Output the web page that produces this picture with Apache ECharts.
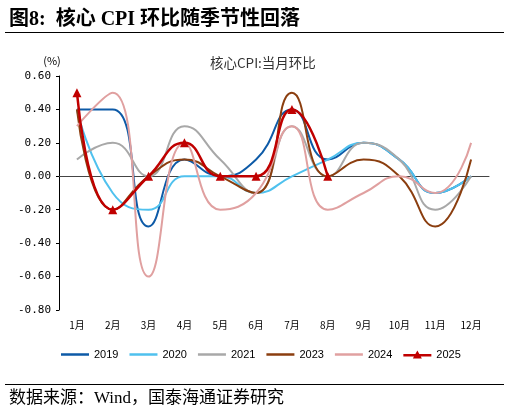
<!DOCTYPE html>
<html>
<head>
<meta charset="utf-8">
<script src="https://cdn.jsdelivr.net/npm/echarts@6/dist/echarts.min.js"></script>
<style>
  html, body { margin: 0; padding: 0; background: #fff; }
  #main { width: 510px; height: 408px; }
</style>
</head>
<body>
<div id="main"></div>
<script>
// 月份
var months = ['1月', '2月', '3月', '4月', '5月', '6月', '7月', '8月', '9月', '10月', '11月', '12月'];
// 核心CPI环比 (%)
var y2019 = [0.4, 0.4, -0.3, 0.1, 0.0, 0.1, 0.4, 0.1, 0.2, 0.1, -0.1, 0.0];
var y2020 = [0.4, -0.1, -0.2, 0.0, 0.0, -0.1, 0.0, 0.1, 0.2, 0.1, -0.1, 0.0];
var y2021 = [0.1, 0.2, 0.0, 0.3, 0.1, -0.1, 0.3, 0.0, 0.2, 0.1, -0.2, 0.0];
var y2023 = [0.4, -0.2, 0.0, 0.1, 0.0, -0.1, 0.5, 0.0, 0.1, 0.0, -0.3, 0.1];
var y2024 = [0.3, 0.5, -0.6, 0.2, -0.2, -0.1, 0.3, -0.2, -0.1, 0.0, -0.1, 0.2];
var y2025 = [0.5, -0.2, 0.0, 0.2, 0.0, 0.0, 0.4, 0.0];

var cjkSerif = '"Liberation Serif", "Noto Sans CJK SC", serif';
var cjkSans = '"Noto Sans CJK SC", sans-serif';
var mono = '"DejaVu Sans Mono", "Liberation Mono", monospace';

// 图例图标: 线段 / 线段+三角
var lineIcon = 'path://M0,4 L28,4 L28,6.5 L0,6.5 Z';
var triIcon = 'path://M0,4 L28,4 L28,6.5 L0,6.5 Z M14,0.5 L18.5,8.5 L9.5,8.5 Z';

function line(name, data, color, width) {
  return {
    name: name,
    type: 'line',
    data: data,
    smooth: 0.5,
    symbol: 'none',
    lineStyle: { color: color, width: width },
    itemStyle: { color: color }
  };
}

var chart = echarts.init(document.getElementById('main'));
var option = {
  animation: false,
  title: [
    {
      text: '图8:  核心 CPI 环比随季节性回落',
      left: 4, top: 5,
      textStyle: { fontFamily: cjkSerif, fontWeight: 'bold', fontSize: 20, color: '#000' }
    },
    {
      text: '核心CPI:当月环比',
      left: 205, top: 51,
      textStyle: { fontFamily: cjkSans, fontWeight: 'normal', fontSize: 13.5, color: '#333' }
    },
    {
      text: '数据来源：Wind，国泰海通证券研究',
      left: 4, top: 385,
      textStyle: { fontFamily: cjkSerif, fontWeight: 'normal', fontSize: 17, color: '#000' }
    }
  ],
  graphic: [
    { type: 'line', shape: { x1: 5, y1: 32.5, x2: 504, y2: 32.5 }, style: { stroke: '#000', lineWidth: 1.2 } },
    { type: 'line', shape: { x1: 5, y1: 384.5, x2: 504, y2: 384.5 }, style: { stroke: '#000', lineWidth: 1.2 } }
  ],
  legend: {
    left: 56, top: 344,
    itemWidth: 28, itemHeight: 10, itemGap: 11,
    textStyle: { fontFamily: 'Arial, "Liberation Sans", sans-serif', fontSize: 11, color: '#000' },
    data: [
      { name: '2019', icon: lineIcon },
      { name: '2020', icon: lineIcon },
      { name: '2021', icon: lineIcon },
      { name: '2023', icon: lineIcon },
      { name: '2024', icon: lineIcon },
      { name: '2025', icon: triIcon }
    ]
  },
  grid: { left: 59, right: 21, top: 76, bottom: 98 },
  xAxis: [
    {
      type: 'category',
      data: months,
      position: 'bottom',
      axisLine: { show: false, onZero: false },
      axisTick: { show: false },
      axisLabel: { fontFamily: cjkSans, fontSize: 10, color: '#000', margin: 10, interval: 0 }
    },
    {
      type: 'category',
      data: months,
      position: 'top',
      axisLine: { onZero: true, lineStyle: { color: '#444', width: 1 } },
      axisTick: { inside: true, length: 4, lineStyle: { color: '#444' } },
      axisLabel: { show: false }
    }
  ],
  yAxis: {
    type: 'value',
    min: -0.8, max: 0.6, interval: 0.2,
    name: '(%)',
    nameGap: 10,
    nameTextStyle: { fontFamily: cjkSans, fontSize: 11, color: '#000', align: 'center', padding: [0, 14, 0, 0] },
    axisLine: { show: true, lineStyle: { color: '#000' } },
    axisTick: { show: true, length: 3, lineStyle: { color: '#000' } },
    splitLine: { show: false },
    axisLabel: {
      fontFamily: mono, fontSize: 11, color: '#000', margin: 8,
      formatter: function (v) { return v.toFixed(2); }
    }
  },
  series: [
    line('2019', y2019, '#0d5aa7', 2),
    line('2020', y2020, '#4fc1ee', 2),
    line('2021', y2021, '#a8a8a8', 2),
    line('2023', y2023, '#8b3e0f', 2),
    line('2024', y2024, '#e0a0a0', 2),
    {
      name: '2025',
      type: 'line',
      data: y2025,
      smooth: 0.5,
      symbol: 'triangle',
      symbolSize: 9,
      lineStyle: { color: '#c00000', width: 2.5 },
      itemStyle: { color: '#c00000' },
      z: 5
    }
  ]
};
chart.setOption(option);
</script>
</body>
</html>
